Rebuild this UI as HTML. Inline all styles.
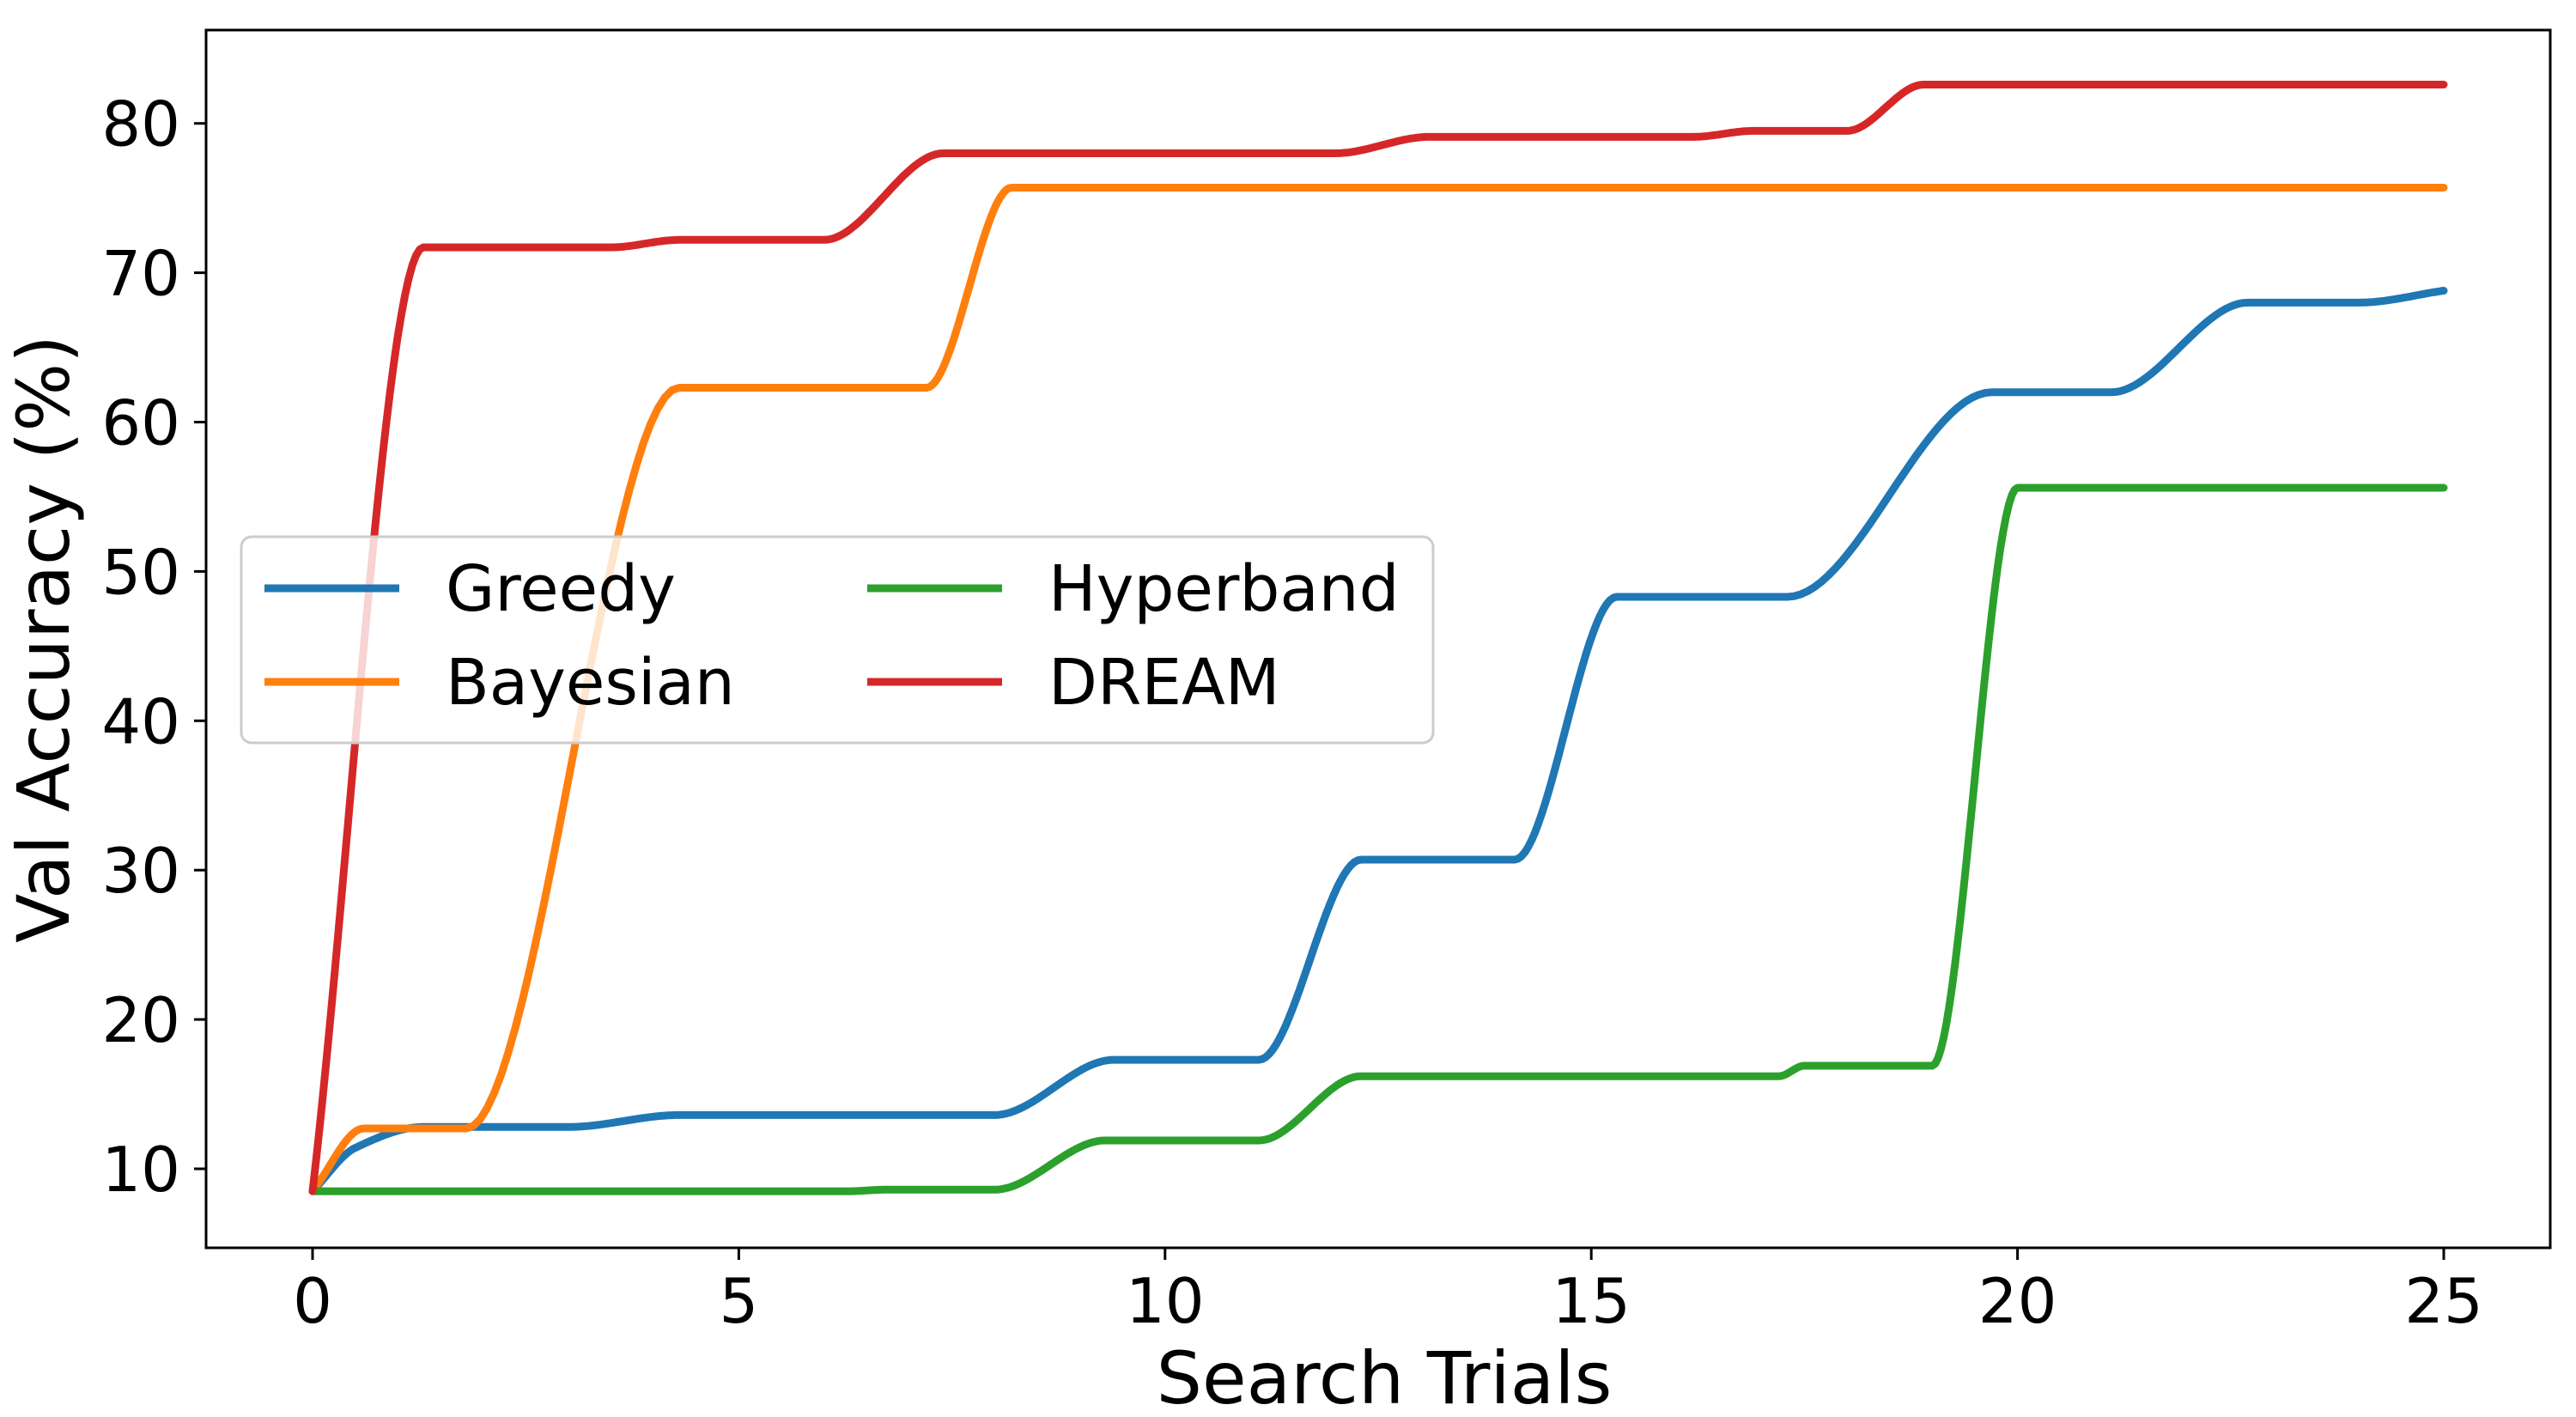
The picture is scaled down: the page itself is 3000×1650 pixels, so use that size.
<!DOCTYPE html>
<html><head><meta charset="utf-8"><style>
html,body{margin:0;padding:0;background:#fff;}
svg{display:block;font-family:"DejaVu Sans","Liberation Sans",sans-serif;}
</style></head><body>
<svg id="chart" width="3000" height="1650" viewBox="0 0 3000 1650" xmlns="http://www.w3.org/2000/svg">
<rect x="0" y="0" width="3000" height="1650" fill="#fff"/>
<g id="series"></g>
<rect x="240" y="35" width="2730" height="1418" fill="none" stroke="#000" stroke-width="3"/>
<g id="ticks"></g>
<text x="1612" y="1634" font-size="84" text-anchor="middle">Search Trials</text>
<text transform="translate(80,744) rotate(-90)" font-size="84" text-anchor="middle">Val Accuracy (%)</text>
<g id="legend">
<rect x="281" y="625" width="1388" height="240" rx="12" fill="#fff" fill-opacity="0.8" stroke="#ccc" stroke-width="3"/>
</g>
</svg>
<script>
const xTicks = [0, 5, 10, 15, 20, 25];
const yTicks = [10, 20, 30, 40, 50, 60, 70, 80];
const seriesNames = ["Greedy", "Bayesian", "Hyperband", "DREAM"];
const seriesColors = ["#1f77b4", "#ff7f0e", "#2ca02c", "#d62728"];
const greedyX = [0, 0.5, 1.3, 3, 4.3, 8, 9.4, 11.1, 12.3, 14.1, 15.3, 17.3, 19.7, 21.1, 22.7, 24, 25];
const greedyY = [8.5, 11.4, 12.8, 12.8, 13.6, 13.6, 17.3, 17.3, 30.7, 30.7, 48.3, 48.3, 62, 62, 68, 68, 68.8];
const bayesX = [0, 0.6, 1.8, 4.3, 7.2, 8.2, 25];
const bayesY = [8.5, 12.7, 12.7, 62.3, 62.3, 75.7, 75.7];
const hyperX = [0, 6.3, 6.7, 8, 9.3, 11.1, 12.3, 17.2, 17.5, 19, 20, 25];
const hyperY = [8.5, 8.5, 8.6, 8.6, 11.9, 11.9, 16.2, 16.2, 16.9, 16.9, 55.6, 55.6];
const dreamX = [0, 1.3, 3.5, 4.3, 6.0, 7.4, 12, 13.1, 16.2, 16.9, 18, 18.9, 25];
const dreamY = [8.5, 71.7, 71.7, 72.2, 72.2, 78, 78, 79.1, 79.1, 79.5, 79.5, 82.6, 82.6];

const NS = "http://www.w3.org/2000/svg";
function xs(v){ return 364 + v * 99.28; }
function ys(v){ return 1361 - (v - 10) * 17.39; }

function monotone(X, Y){
  const n = X.length, d = [], m = new Array(n).fill(0);
  for (let i = 0; i < n - 1; i++) d.push((Y[i+1]-Y[i])/(X[i+1]-X[i]));
  for (let i = 1; i < n - 1; i++) m[i] = (d[i-1]*d[i] <= 0) ? 0 : 2/(1/d[i-1]+1/d[i]);
  m[0] = d[0]; m[n-1] = d[n-2];
  if (d[0] === 0) m[0] = 0; if (d[n-2] === 0) m[n-1] = 0;
  let path = "M" + xs(X[0]).toFixed(1) + "," + ys(Y[0]).toFixed(1);
  for (let i = 0; i < n - 1; i++){
    const h = X[i+1]-X[i];
    for (let k = 1; k <= 30; k++){
      const t = k/30, t2 = t*t, t3 = t2*t;
      const v = (2*t3-3*t2+1)*Y[i] + (t3-2*t2+t)*h*m[i] + (-2*t3+3*t2)*Y[i+1] + (t3-t2)*h*m[i+1];
      path += " L" + xs(X[i]+t*h).toFixed(1) + "," + ys(v).toFixed(1);
    }
  }
  return path;
}

const tg = document.getElementById("ticks");
xTicks.forEach(v => {
  const l = document.createElementNS(NS, "line");
  l.setAttribute("x1", xs(v)); l.setAttribute("x2", xs(v)); l.setAttribute("y1", 1453); l.setAttribute("y2", 1467);
  l.setAttribute("stroke", "#000"); l.setAttribute("stroke-width", 3);
  
  
  tg.appendChild(l);
  const t = document.createElementNS(NS, "text");
  t.setAttribute("x", xs(v)); t.setAttribute("y", 1540); t.setAttribute("font-size", 72); t.setAttribute("text-anchor", "middle");
  t.textContent = v;
  
  
  tg.appendChild(t);
});
yTicks.forEach(v => {
  const l = document.createElementNS(NS, "line");
  l.setAttribute("x1", 226); l.setAttribute("x2", 240); l.setAttribute("y1", ys(v)); l.setAttribute("y2", ys(v));
  l.setAttribute("stroke", "#000"); l.setAttribute("stroke-width", 3);
  
  
  tg.appendChild(l);
  const t = document.createElementNS(NS, "text");
  t.setAttribute("x", 210); t.setAttribute("y", ys(v) + 26); t.setAttribute("font-size", 72); t.setAttribute("text-anchor", "end");
  t.textContent = v;
  
  
  tg.appendChild(t);
});

const sg = document.getElementById("series");
const allX = [greedyX, bayesX, hyperX, dreamX], allY = [greedyY, bayesY, hyperY, dreamY];
for (let s = 0; s < 4; s++){
  const p = document.createElementNS(NS, "path");
  p.setAttribute("d", monotone(allX[s], allY[s]));
  p.setAttribute("fill", "none"); p.setAttribute("stroke", seriesColors[s]); p.setAttribute("stroke-width", 9);
  p.setAttribute("stroke-linejoin", "round"); p.setAttribute("stroke-linecap", "round");
  
  
  sg.appendChild(p);
}

const lg = document.getElementById("legend");
const pos = [[308, 685], [308, 794], [1010, 685], [1010, 794]];
for (let s = 0; s < 4; s++){
  const [x, y] = pos[s];
  const l = document.createElementNS(NS, "line");
  l.setAttribute("x1", x); l.setAttribute("x2", x + 157); l.setAttribute("y1", y); l.setAttribute("y2", y);
  l.setAttribute("stroke", seriesColors[s]); l.setAttribute("stroke-width", 9);
  
  
  lg.appendChild(l);
  const t = document.createElementNS(NS, "text");
  t.setAttribute("x", x + 211); t.setAttribute("y", y + 26); t.setAttribute("font-size", 74);
  t.textContent = seriesNames[s];
  
  
  lg.appendChild(t);
}
</script>
</body></html>
